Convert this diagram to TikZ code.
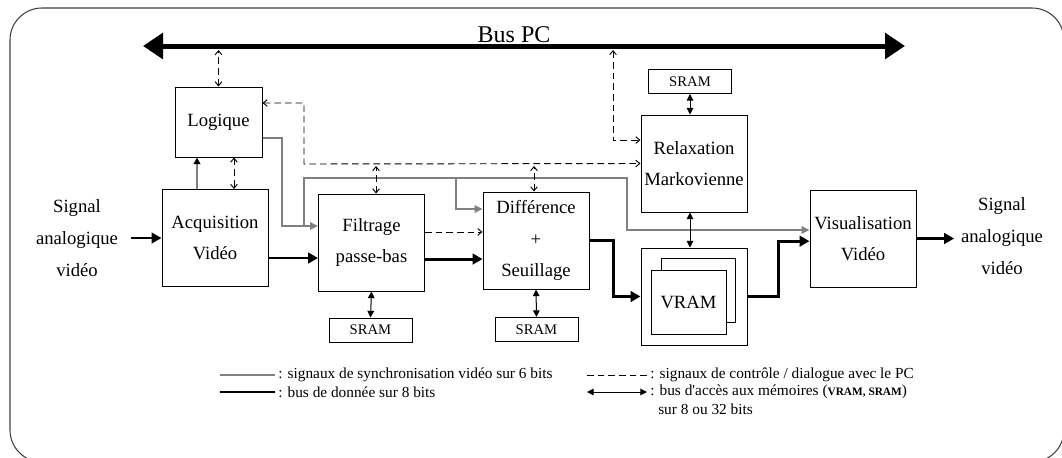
\documentclass[tikz,border=0pt]{standalone}
\usepackage{fontspec}
\setmainfont{Liberation Serif}
\usetikzlibrary{arrows.meta}

\begin{document}
\begin{tikzpicture}[x=0.75pt, y=-0.75pt,
        >={Straight Barb[length=3pt,width=5pt]},
        blk/.style={draw, line width=0.75pt, minimum width=79.5pt, minimum height=72.75pt,
            align=center, inner sep=1pt, font=\fontsize{14}{23.5}\selectfont},
        sram/.style={draw, line width=0.75pt, minimum width=62.25pt, minimum height=18pt,
            inner sep=0pt, font=\fontsize{11}{13}\selectfont},
        sigtxt/.style={align=center, inner sep=0pt, font=\fontsize{14}{24}\selectfont},
        data/.style={line width=2.2pt, -{Triangle[length=7.5pt,width=8pt]}},
        sync/.style={gray, line width=1.5pt},
        syncarrow/.style={sync, -{Triangle[length=6pt,width=5.5pt]}},
        ctrl/.style={dash pattern=on 5pt off 3pt, line width=0.7pt},
        mem/.style={line width=0.75pt, {Triangle[length=5pt,width=5pt]}-{Triangle[length=5pt,width=5pt]}},
        legtxt/.style={anchor=west, inner sep=0pt, font=\fontsize{11.5}{13}\selectfont}]

    % ---- frame ----
    \useasboundingbox (0,0) rectangle (1062,457);
    \clip (0,0) rectangle (1062,457);
    \draw[line width=0.8pt, black!75, rounded corners=24pt] (10,8) rectangle (1064,462);

    % ---- bus PC ----
    \coordinate (busL) at (143,46);
    \coordinate (busR) at (905,46);
    \draw[line width=3.75pt, {Triangle[length=15pt,width=19pt]}-{Triangle[length=15pt,width=19pt]}]
        (busL) -- (busR);
    \node[anchor=base, inner sep=0pt, font=\fontsize{18}{20}\selectfont] (busname) at (514,42) {Bus PC};

    % ---- blocks ----
    \node[blk, minimum width=65.25pt, minimum height=52.5pt] (logq) at (218.5,122) {Logique};
    \node[blk] (acq) at (215,238) {Acquisition\\Vidéo};
    \node[blk] (filt) at (371.5,242.5) {Filtrage\\passe-bas};
    \node[blk] (diff) at (536,240.5) {Différence\\+\\Seuillage};
    \node[blk] (relax) at (694,163.5) {Relaxation\\Markovienne};
    \node[blk] (visu) at (863,238.5) {Visualisation\\Vidéo};

    % VRAM (two stacked pages)
    \node[blk] (vram) at (694,296.5) {};
    \node[draw, line width=0.75pt, minimum width=55.5pt, minimum height=48pt] (vramB) at (698,290) {};
    \node[draw, fill=white, line width=0.75pt, minimum width=56.25pt, minimum height=48pt,
        font=\fontsize{14}{16}\selectfont] (vramF) at (688.5,302) {VRAM};

    % ---- memories ----
    \node[sram] (fsram) at (370.5,330) {SRAM};
    \node[sram] (dsram) at (536.5,329.5) {SRAM};
    \node[sram] (rsram) at (690,81.5) {SRAM};

    % ---- analog signals ----
    \node[sigtxt] (sigL) at (77,238) {Signal\\analogique\\vidéo};
    \node[sigtxt] (sigR) at (1002,236) {Signal\\analogique\\vidéo};

    % ---- junctions ----
    \coordinate (jA) at (304,226);
    \coordinate (jB) at (456,178);
    \coordinate (jC) at (304,164);
    \coordinate (jD) at (613,50);

    % ---- synchronisation (gray) ----
    \draw[syncarrow] ([yshift=-12pt]logq.east) -- ++(19,0) |- ([yshift=12.4pt]filt.west);
    \draw[syncarrow] (jA) |- ++(323,-48) |- ([yshift=6.4pt]visu.west);
    \draw[syncarrow] (jB) |- ([yshift=23.6pt]diff.west);
    \draw[sync, -{Triangle[length=5pt,width=5pt,color=black]}]
        ([xshift=-13.5pt]acq.north) -- ([xshift=-13.5pt]acq.north |- logq.south);

    % ---- control / dialogue (dashed) ----
    \draw[ctrl, <->] (logq.north) -- (logq.north |- jD);
    \draw[ctrl, <->] ([xshift=11.6pt]logq.south) -- ([xshift=11.6pt]logq.south |- acq.north);
    \draw[ctrl, <->] ([yshift=14.25pt]logq.east) -| (jC) -- (relax.west);
    \draw[ctrl, <->, shorten >=1.5pt] ([xshift=3.4pt]filt.north) -- ([xshift=3.4pt]filt.north |- jC);
    \draw[ctrl, <->, shorten >=1.5pt] ([xshift=-1.5pt]diff.north) -- ([xshift=-1.5pt]diff.north |- jC);
    \draw[ctrl, <->] (jD) |- ([yshift=17.6pt]relax.west);
    \draw[ctrl, ->] ([yshift=7.9pt]filt.east) -- ([yshift=7.9pt]filt.east -| diff.west);

    % ---- data bus (thick) ----
    \draw[data] ([xshift=9.75pt]sigL.east) -- (sigL.east -| acq.west);
    \draw[data] ([yshift=-15pt]acq.east) -- ([yshift=-15pt]acq.east -| filt.west);
    \draw[data] ([yshift=-12.4pt]filt.east) -- ([yshift=-12.4pt]filt.east -| diff.west);
    \draw[data] (diff.east) -- ++(24,0) |- (vram.west);
    \draw[data] (vram.east) -- ++(31,0) |- ([yshift=-2pt]visu.west);
    \draw[data] (visu.east) -- ([xshift=-5pt]visu.east -| sigR.west);

    % ---- memory access ----
    \draw[mem] (filt.south) -- (fsram.north);
    \draw[mem] (diff.south) -- (dsram.north);
    \draw[mem] (rsram.south) -- (rsram.south |- relax.north);
    \draw[mem] (relax.south -| rsram.south) -- (vram.north -| rsram.south);

    % ---- legend ----
    \node[legtxt] (lsync) at (278,375) {: signaux de synchronisation vidéo sur 6 bits};
    \draw[sync] ([xshift=-2.25pt]lsync.west) -- ++(-55,0);
    \node[legtxt] (ldata) at (278,392) {: bus de donnée sur 8 bits};
    \draw[line width=2.2pt] ([xshift=-2.25pt]ldata.west) -- ++(-55,0);
    \node[legtxt] (lctrl) at (650,375) {: signaux de contrôle / dialogue avec le PC};
    \draw[ctrl] ([xshift=-2.25pt]lctrl.west) -- ++(-60,0);
    \node[legtxt] (lmem) at (650,392) {: bus d\textquotesingle accès aux mémoires ({\fontsize{8.5}{10}\selectfont\bfseries VRAM, SRAM})};
    \draw[mem] ([xshift=-2.25pt]lmem.west) -- ++(-60,0);
    \node[legtxt] (lmem2) at (658,409) {sur 8 ou 32 bits};
\end{tikzpicture}
\end{document}
